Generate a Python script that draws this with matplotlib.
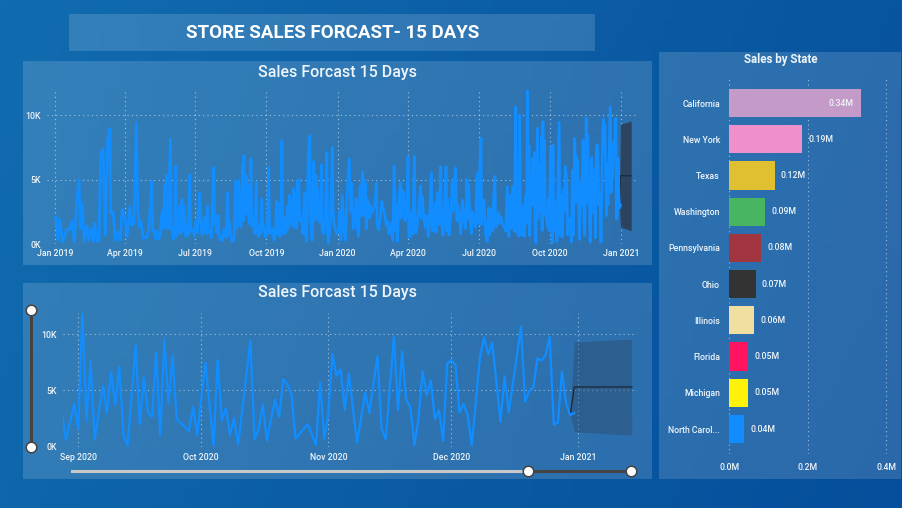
import numpy as np
import pandas as pd
import matplotlib
matplotlib.use("Agg")
from matplotlib import pyplot as plt
from matplotlib.patches import Rectangle

W, H = 903, 508

# daily sales in thousands (day 0 = 1 Jan 2019)
days_2019a = [1, 4, 6, 10, 15, 19, 22, 25, 28, 31, 33, 35, 38, 41, 44, 47, 50, 51, 55, 57, 59, 62, 65, 68, 71, 72, 75, 78,
              81, 84, 87, 90, 93, 97, 99, 102, 105, 107, 109, 111, 114, 119]
sales_2019a = [2.1, 0.3, 1.9, 0.2, 1.1, 1.15, 1.75, 0.2, 3.1, 5.0, 1.2, 3.1, 0.2, 1.4, 0.3, 1.2, 0.2, 1.6, 0.2, 0.3, 7.05, 7.35, 0.7, 8.0, 8.95, 2.4, 2.5, 0.3,
               0.95, 0.3, 2.7, 2.2, 0.6, 2.95, 1.5, 1.6, 9.4, 2.6, 1.35, 1.75, 0.45, 0.55]

days_2019b = [121, 123, 125, 126, 128, 130, 132, 134, 136, 137, 139, 140, 142, 143, 144, 146, 147, 149, 150, 151, 153, 154, 155, 156, 157, 158,
              160, 161, 162, 164, 165, 166, 168, 169, 171, 172, 174, 175, 177, 179, 180, 182, 184, 185, 187, 188, 190, 191, 193, 195, 197, 198,
              200, 202, 203, 205, 206, 208, 209, 211, 212, 214, 216, 218, 219, 221, 223, 224, 225, 227, 229, 231, 232, 233, 234, 235, 236, 237,
              239, 240, 241, 242, 243, 244, 245, 247, 248, 249, 251, 252, 253, 254, 256, 258, 260, 261, 263, 265, 266, 267, 268, 270, 272, 274,
              276, 277, 279, 281, 283, 285, 286, 287, 289, 290, 292, 293, 294, 295, 297, 298, 300, 301, 303, 304, 306, 307, 308, 310, 311, 312,
              313, 315, 316, 318, 320, 322, 323, 325, 327, 329, 330, 332, 334, 335, 337, 338, 339, 341, 343, 344, 345, 347, 349, 351, 352, 353,
              356, 358, 359, 361, 363, 364]
sales_2019b = [1.2, 2.7, 4.9, 1.0, 1.1, 0.4, 1.0, 0.4, 0.8, 1.9, 2.65, 1.2, 4.6, 1.4, 5.35, 1.2, 3.0, 8.15, 1.2, 1.1, 0.4, 1.2, 2.7, 6.05, 0.6, 1.1,
               1.0, 2.9, 0.8, 3.45, 1.0, 3.0, 1.7, 0.6, 1.4, 0.7, 5.35, 1.0, 1.1, 1.0, 0.6, 1.75, 0.9, 2.4, 3.95, 2.0, 0.7, 1.0, 2.1, 0.8, 2.95, 0.9,
               0.95, 0.5, 2.5, 5.95, 1.5, 2.25, 0.9, 2.2, 0.7, 0.3, 0.3, 1.1, 1.15, 0.5, 4.0, 0.7, 1.75, 0.5, 0.2, 0.3, 2.0, 4.9, 1.2, 4.45, 1.4, 4.9,
               1.5, 1.35, 3.0, 6.15, 1.8, 6.85, 2.4, 5.3, 2.3, 4.6, 1.6, 2.5, 6.6, 1.4, 2.15, 0.8, 4.8, 1.0, 0.6, 1.6, 0.8, 3.5, 1.6, 1.2, 0.5, 0.8,
               5.95, 1.0, 0.8, 1.2, 0.3, 1.0, 3.35, 0.8, 3.15, 0.6, 1.2, 8.0, 0.8, 0.8, 2.0, 0.9, 2.95, 1.2, 3.8, 1.6, 3.4, 1.4, 4.3, 1.3, 3.95, 1.2,
               4.9, 5.0, 1.8, 2.15, 0.8, 4.0, 1.0, 0.2, 6.8, 8.4, 2.0, 0.3, 6.4, 1.8, 5.35, 2.0, 4.3, 1.7, 1.85, 6.15, 1.0, 0.8, 2.0, 7.1, 0.9, 0.05,
               2.0, 7.5, 2.6, 1.35, 1.0, 0.8]

days_2020 = [366, 368, 369, 371, 373, 375, 377, 378, 380, 382, 383, 385, 387, 389, 390, 392, 394, 395, 397, 398, 399, 401, 402, 403, 405, 406, 407, 409,
             411, 413, 415, 416, 418, 420, 422, 424, 426, 428, 430, 431, 433, 435, 436, 438, 440, 441, 442, 444, 446, 447, 448, 450, 452, 454, 456, 457,
             459, 461, 462, 464, 465, 466, 468, 470, 472, 473, 474, 476, 478, 480, 482, 484, 486, 487, 489, 491, 492, 494, 496, 498, 499, 501, 503, 505,
             506, 507, 509, 511, 513, 514, 515, 517, 519, 520, 522, 524, 526, 528, 530, 532, 533, 534, 536, 538, 539, 541, 543, 545, 547, 548, 550, 551,
             552, 554, 556, 558, 560, 561, 563, 565, 566, 568, 569, 571, 573, 574, 576, 578, 580, 582, 584, 586, 587, 589, 591, 593, 595, 596, 598, 599,
             600, 601, 603]
sales_2020 = [1.0, 2.6, 0.3, 3.8, 1.0, 0.3, 3.6, 4.6, 6.6, 2.5, 4.7, 1.2, 1.7, 3.55, 1.3, 0.6, 4.5, 2.2, 5.6, 2.2, 5.0, 4.7, 1.2, 3.5, 3.15, 2.0, 3.0, 2.4,
              2.7, 3.0, 4.75, 1.5, 1.1, 2.0, 3.3, 2.7, 2.25, 1.4, 1.75, 0.8, 0.8, 1.6, 0.3, 6.05, 1.0, 3.0, 0.2, 3.4, 4.75, 2.0, 4.2, 3.95, 1.8, 2.5, 6.8, 0.5,
              0.6, 2.6, 0.8, 6.8, 1.4, 0.9, 1.6, 2.8, 4.5, 2.0, 3.7, 2.25, 1.3, 2.2, 0.6, 2.5, 5.5, 1.0, 1.1, 3.2, 0.9, 4.0, 1.5, 6.0, 1.8, 0.7, 3.0, 6.0,
              1.0, 3.5, 0.7, 2.2, 5.0, 2.5, 3.4, 5.9, 1.8, 3.0, 2.15, 0.8, 3.4, 1.9, 1.2, 5.0, 2.0, 4.6, 1.85, 0.8, 2.5, 1.85, 1.3, 5.45, 1.6, 5.0, 8.2, 1.5,
              3.2, 3.4, 0.8, 0.2, 2.8, 0.7, 2.65, 1.0, 3.1, 5.25, 1.3, 1.6, 2.4, 1.6, 2.1, 1.5, 1.35, 1.0, 4.45, 0.6, 3.8, 1.2, 4.45, 1.0, 10.65, 0.9, 1.1, 0.6,
              10.0, 0.7, 0.7]

# last four months, day 605 onward
recent_days = [605, 606, 608, 609, 610, 611, 612, 613, 615, 616, 617, 618, 619, 620, 621, 623, 624, 625, 626, 627, 628, 629, 630, 631, 632, 633,
               636, 637, 638, 640, 642, 643, 644, 645, 646, 647, 648, 651, 652, 653, 654, 655, 657, 658, 659, 660, 661, 662, 664, 665, 667,
               668, 669, 670, 671, 672, 673, 674, 675, 677, 679, 680, 682, 683, 684, 686, 687, 688, 689, 690, 691, 692, 693, 694, 695, 696,
               697, 698, 699, 700, 701, 702, 703, 704, 705, 707, 708, 709, 710, 712, 713, 714, 717, 718, 719, 720, 721, 722, 723, 724, 725,
               726, 727, 728, 729, 730]
recent_sales = [3.0, 0.6, 3.8, 1.6, 11.9, 2.3, 7.6, 0.65, 5.4, 3.0, 6.65, 3.7, 7.1, 1.1, 0.1, 9.0, 2.0, 6.15, 3.05, 2.65, 8.35, 1.05, 9.5, 3.85, 8.05, 2.45,
                1.4, 3.55, 1.05, 7.45, 0.1, 7.7, 2.3, 3.4, 1.05, 2.5, 0.2, 9.45, 0.65, 1.55, 3.8, 0.55, 4.2, 2.65, 6.0, 5.55, 4.65, 0.7, 1.6, 2.0, 0.15,
                5.7, 0.7, 2.95, 8.2, 6.3, 6.85, 3.25, 6.5, 0.35, 4.8, 3.0, 8.05, 1.6, 0.65, 9.75, 3.25, 8.45, 4.15, 3.55, 0.15, 2.5, 6.7, 4.6, 5.85, 2.45,
                3.25, 0.5, 7.35, 7.7, 7.25, 3.05, 3.8, 2.8, 0.15, 7.95, 9.7, 8.2, 9.25, 2.2, 6.25, 3.05, 10.65, 4.0, 4.95, 5.25, 7.85, 7.65, 8.15, 9.75, 1.95,
                2.15, 6.65, 3.85, 2.8, 3.0]

# 15 day forecast with its confidence band
forecast_days = [729, 730, 744]
forecast_sales = [2.8, 5.3, 5.3]
forecast_low = [2.8, 1.33, 1.03]
forecast_high = [2.8, 9.3, 9.55]

states = ["California", "New York", "Texas", "Washington", "Pennsylvania", "Ohio", "Illinois", "Florida", "Michigan", "North Carol..."]
state_sales = [0.336, 0.186, 0.116, 0.092, 0.0815, 0.068, 0.0637, 0.049, 0.0484, 0.039]
state_colors = ["#c49ac8", "#ee90cb", "#e0bf30", "#48b560", "#a13540", "#333333", "#f0dfa0", "#ff1460", "#fff20a", "#118dff"]

start = pd.Timestamp("2019-01-01")
LINE = "#118dff"
TEXT = "#eef5fa"
plt.rcParams["font.family"] = ["Roboto", "DejaVu Sans"]


def to_dates(days):
    return start + pd.to_timedelta(np.array(days), unit="D")


def px_axes(x0, y0, x1, y1):
    # axes placed by pixel box, y counted from the top
    ax = fig.add_axes([x0 / W, 1 - y1 / H, (x1 - x0) / W, (y1 - y0) / H])
    ax.patch.set_alpha(0)
    for s in ax.spines.values():
        s.set_visible(False)
    ax.tick_params(length=0, colors=TEXT, labelsize=6.3)
    ax.grid(True, color="white", alpha=0.55, lw=0.8, ls=(0, (1, 3)))
    ax.set_axisbelow(True)
    return ax


fig = plt.figure(figsize=(W / 100, H / 100), dpi=100)

# page background and panels
bg = fig.add_axes([0, 0, 1, 1])
gx, gy = np.meshgrid(np.linspace(0, 1, 90), np.linspace(0, 1, 50))
g = (gx * 0.8 + gy * 0.2)[..., None]
bg.imshow(np.array([17, 108, 175]) / 255 * (1 - g) + np.array([5, 78, 155]) / 255 * g,
          extent=[0, W, H, 0], aspect="auto")
bg.set_xlim(0, W)
bg.set_ylim(H, 0)
bg.axis("off")
for x0, y0, x1, y1 in [(69, 14, 595, 51), (23, 61, 652, 265), (23, 283, 652, 479), (659, 52, 901, 479)]:
    bg.add_patch(Rectangle((x0, y0), x1 - x0, y1 - y0, fc="white", alpha=0.15, lw=0))

bg.text(332.5, 33, "STORE SALES FORCAST- 15 DAYS", color="white", fontsize=13.5, fontweight="bold", ha="center", va="center")
bg.text(337.5, 72, "Sales Forcast 15 Days", color=TEXT, fontsize=11.5, fontweight="medium", ha="center", va="center")
bg.text(337.5, 293, "Sales Forcast 15 Days", color=TEXT, fontsize=11.5, fontweight="medium", ha="center", va="center")
bg.text(780.5, 60, "Sales by State", color=TEXT, fontsize=8.3, fontweight="bold", ha="center", va="center")

# sliders on the lower chart
bg.plot([31, 31], [310, 447], color="#444444", lw=2.2)
bg.plot([72, 528], [471, 471], color="#c8c8c8", lw=2.2)
bg.plot([528, 631], [471, 471], color="#444444", lw=2.2)
bg.plot([31, 31, 528.5, 631], [310, 447, 471, 471], "o", ms=7.6, mfc="white", mec="#444444", mew=1.1)

all_days = days_2019a + days_2019b + days_2020 + recent_days
all_sales = sales_2019a + sales_2019b + sales_2020 + recent_sales

# full history
ax = px_axes(46.7, 89, 638, 244)
ax.fill_between(to_dates(forecast_days), forecast_low, forecast_high, color="#2c3f58", alpha=0.9, lw=0)
ax.plot(to_dates(forecast_days), forecast_sales, color="#1d2b3a", lw=0.9)
ax.plot(to_dates(all_days), all_sales, color=LINE, lw=2.0, solid_joinstyle="round")
ticks = pd.date_range("2019-01-01", "2021-01-01", freq="3MS")
ax.set_xticks(ticks)
ax.set_xticklabels([t.strftime("%b %Y") for t in ticks], fontweight="medium")
ax.set_yticks([0, 5, 10])
ax.set_yticklabels(["0K", "5K", "10K"], fontweight="medium")
ax.set_xlim(start - pd.Timedelta(days=10.7), start + pd.Timedelta(days=752.8))
ax.set_ylim(0, 12.04)
ax.tick_params(axis="x", pad=3.5)
ax.tick_params(axis="y", pad=4)

# zoomed window
sep1 = pd.Timestamp("2020-09-01")
ax2 = px_axes(63.3, 312.7, 637, 446.7)
ax2.fill_between(to_dates(forecast_days), forecast_low, forecast_high, color="#2c3f58", alpha=0.35, lw=0)
ax2.plot(to_dates(forecast_days), forecast_sales, color="#1d2b3a", lw=1.0)
ax2.plot(to_dates(recent_days), recent_sales, color=LINE, lw=1.6, solid_joinstyle="round")
ticks2 = pd.date_range("2020-09-01", "2021-01-01", freq="MS")
ax2.set_xticks(ticks2)
ax2.set_xticklabels([t.strftime("%b %Y") for t in ticks2], fontweight="medium")
ax2.set_yticks([0, 5, 10])
ax2.set_yticklabels(["0K", "5K", "10K"], fontweight="medium")
ax2.set_xlim(sep1 - pd.Timedelta(days=3.66), sep1 + pd.Timedelta(days=136.3))
ax2.set_ylim(0, 11.9)
ax2.tick_params(axis="x", pad=4.5)
ax2.tick_params(axis="y", pad=4.5)

# states
ax3 = px_axes(729, 77.3, 888, 454)
ypos = np.arange(len(states))
ax3.barh(ypos, state_sales, height=0.78, color=state_colors)
ax3.set_yticks(ypos)
ax3.set_yticklabels(states, fontsize=6.3, fontweight="medium")
ax3.set_xticks([0, 0.2, 0.4])
ax3.set_xticklabels(["0.0M", "0.2M", "0.4M"], fontweight="medium")
ax3.set_xlim(-0.0005, 0.405)
ax3.set_ylim(9.69, -0.71)
ax3.grid(False, axis="y")
ax3.tick_params(axis="y", pad=6.5)
ax3.tick_params(axis="x", pad=6.5)
for i, v in enumerate(state_sales):
    if v > 0.3:
        ax3.text(v - 0.018, i, f"{v:.2f}M", color=TEXT, fontsize=6.3, fontweight="medium", ha="right", va="center")
    else:
        ax3.text(v + 0.015, i, f"{v:.2f}M", color=TEXT, fontsize=6.3, fontweight="medium", ha="left", va="center")

fig.savefig("out.png", dpi=100)
